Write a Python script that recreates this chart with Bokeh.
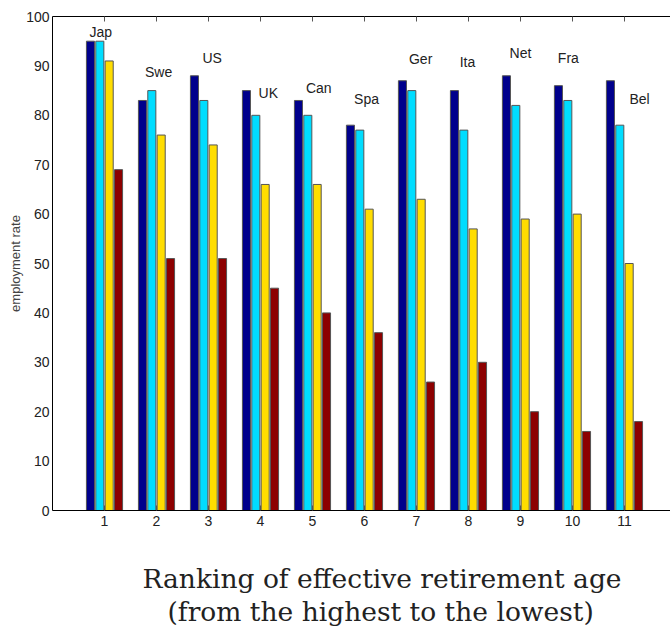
import numpy as np
from bokeh.plotting import figure
from bokeh.models import ColumnDataSource, LinearAxis, Title, FixedTicker, Range1d
from bokeh.core.properties import value
from bokeh.embed import file_html
from bokeh.resources import INLINE

ranks = [1, 2, 3, 4, 5, 6, 7, 8, 9, 10, 11]
countries = ["Jap", "Swe", "US", "UK", "Can", "Spa", "Ger", "Ita", "Net", "Fra", "Bel"]
series_a = [95, 83, 88, 85, 83, 78, 87, 85, 88, 86, 87]
series_b = [95, 85, 83, 80, 80, 77, 85, 77, 82, 83, 78]
series_c = [91, 76, 74, 66, 66, 61, 63, 57, 59, 60, 50]
series_d = [69, 51, 51, 45, 40, 36, 26, 30, 20, 16, 18]
label_x = [0.93, 2.04, 3.07, 4.15, 5.12, 6.04, 7.08, 7.98, 9.0, 9.92, 11.29]
label_y = [96.8, 88.7, 91.5, 84.6, 85.6, 83.4, 91.3, 90.7, 92.7, 91.5, 83.2]
y_ticks = list(range(0, 101, 10))
x_title = ["Ranking of effective retirement age", "(from the highest to the lowest)"]

colors = ["#00008C", "#00DDFF", "#FFDD00", "#8C0000"]
series = [series_a, series_b, series_c, series_d]
offsets = [-0.27, -0.09, 0.09, 0.27]
bar_w = 0.155

p = figure(width=670, height=630, output_backend="svg", toolbar_location=None,
           x_range=Range1d(0, 11.885), y_range=Range1d(0, 100),
           min_border_left=52, min_border_right=0, min_border_top=16, min_border_bottom=120)
p.grid.visible = False
p.outline_line_color = None
p.background_fill_color = "white"
p.border_fill_color = "white"

for s, c, off in zip(series, colors, offsets):
    src = ColumnDataSource(dict(x=[r + off for r in ranks], top=s))
    p.vbar(x="x", top="top", bottom=0, width=bar_w, source=src,
           fill_color=c, line_color="#555555", line_width=1)

lsrc = ColumnDataSource(dict(x=label_x, y=label_y, t=countries))
p.text(x="x", y="y", text="t", source=lsrc, text_align="center", text_baseline="middle",
       text_font=value("Liberation Sans"), text_font_size="14px", text_color="#222222")

xa = p.xaxis[0]
xa.ticker = FixedTicker(ticks=ranks)
xa.major_tick_in = 5
xa.major_tick_out = 0
xa.minor_tick_line_color = None
xa.major_label_text_font = "Liberation Sans"
xa.major_label_text_font_size = "14px"
xa.major_label_text_color = "#222222"
xa.major_label_standoff = 5
xa.axis_line_color = "black"
xa.major_tick_line_color = "#555555"

top = LinearAxis(ticker=FixedTicker(ticks=ranks),
                 major_label_overrides={r: "" for r in ranks},
                 major_tick_in=5, major_tick_out=0, minor_tick_line_color=None,
                 major_label_standoff=0,
                 axis_line_color="black", major_tick_line_color="#555555")
p.add_layout(top, "above")

ya = p.yaxis[0]
ya.ticker = FixedTicker(ticks=y_ticks)
ya.major_tick_in = 0
ya.major_tick_out = 0
ya.minor_tick_line_color = None
ya.major_label_text_font = "Liberation Sans"
ya.major_label_text_font_size = "14px"
ya.major_label_text_color = "#222222"
ya.major_label_standoff = 3
ya.axis_label = "employment rate"
ya.axis_label_text_font = "Liberation Sans"
ya.axis_label_text_font_size = "13px"
ya.axis_label_text_font_style = "normal"
ya.axis_label_standoff = 0
ya.axis_line_color = "black"

for txt, off, sto, va in zip(x_title, [90, 115], [64, -60], ["bottom", "top"]):
    p.add_layout(Title(text=txt, align="left", offset=off, standoff=sto, vertical_align=va,
                       text_font="DejaVu Serif", text_font_size="26.5px",
                       text_font_style="normal", text_color="#222222"), "below")

open("out.html", "w").write(file_html(p, INLINE))
